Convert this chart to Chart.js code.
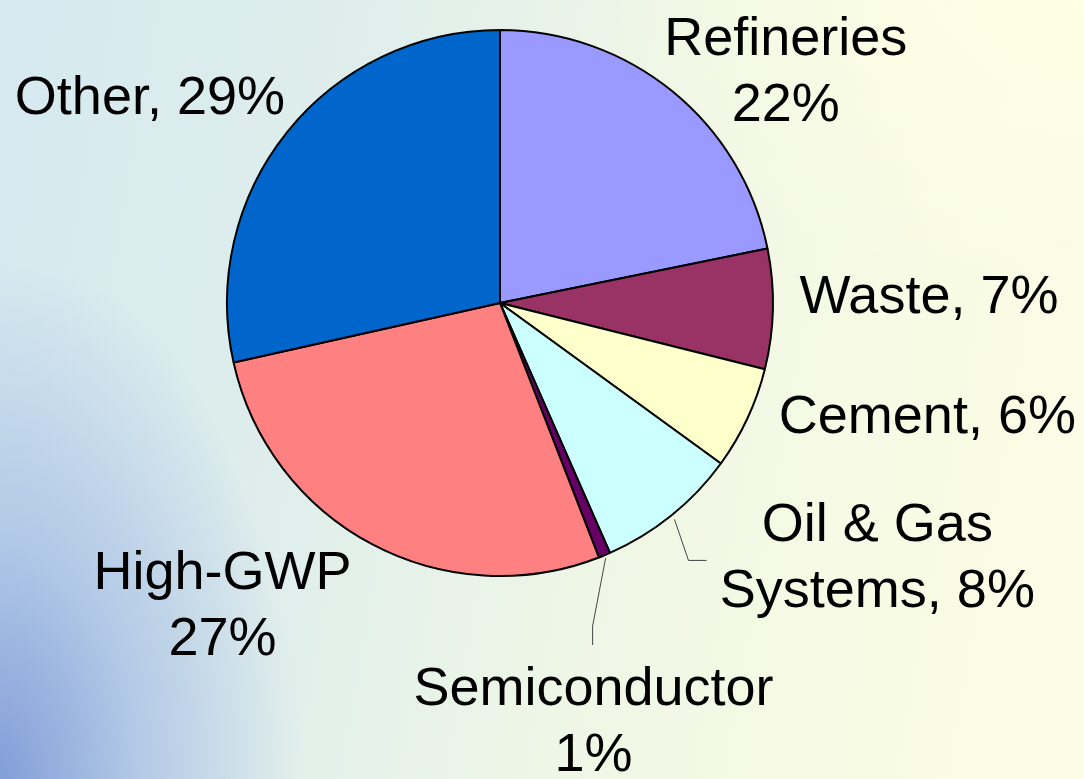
<!DOCTYPE html>
<html>
<head>
<meta charset="utf-8">
<title>Emission sources</title>
<script src="https://cdn.jsdelivr.net/npm/chart.js@4.4.1/dist/chart.umd.min.js"></script>
<style>
  html, body { margin: 0; padding: 0; }
  body {
    width: 1084px;
    height: 779px;
    overflow: hidden;
    background:
      radial-gradient(ellipse 300px 520px at 0% 100%, rgba(115, 145, 212, 0.85) 0%, rgba(150, 176, 226, 0.6) 45%, rgba(200, 225, 236, 0) 100%),
      radial-gradient(ellipse 500px 300px at 100% 0%, rgba(255, 255, 228, 0.9) 0%, rgba(255, 255, 228, 0) 100%),
      linear-gradient(100deg, #d5e9ef 0%, #dfeeec 30%, #eef6e6 55%, #f8fbe4 80%, #fbfce6 100%);
  }
  #wrap { position: absolute; left: 0; top: 0; width: 1084px; height: 779px; }
</style>
</head>
<body>
<div id="wrap"><canvas id="chart" width="1084" height="779"></canvas></div>
<script>
// data
const categories = ["Refineries", "Waste", "Cement", "Oil & Gas Systems", "Semiconductor", "High-GWP", "Other"];
const shares = [21.8, 7.1, 6.1, 8.4, 0.7, 27.4, 28.5];
const sliceColors = ["#9999FF", "#993366", "#FFFFCC", "#CCFFFF", "#660066", "#FF8080", "#0066CC"];
// label text, {p} is replaced by the rounded share
const labelLines = [
  ["Refineries", "{p}%"],
  ["Waste, {p}%"],
  ["Cement, {p}%"],
  ["Oil & Gas", "Systems, {p}%"],
  ["Semiconductor", "{p}%"],
  ["High-GWP", "{p}%"],
  ["Other, {p}%"]
];

// label placement relative to the slice's outer mid point (dx, dy of first baseline)
const labelOffsets = [[113, -37], [156, 4], [180, 15], [206, 25], [-11, 150], [-149, 45], [-137, -18]];
// leader lines: [start push out, bend dx, bend dy, end dx, end dy]
const leaders = { 3: [5, 14, 41, 32, 41], 4: [3, -13, 68, -13, 87] };

const FONT = '54px "Liberation Sans", Arial, sans-serif';
const LINE_GAP = 66;

const pieLabels = {
  id: "pieLabels",
  afterDatasetsDraw(chart) {
    const ctx = chart.ctx;
    const meta = chart.getDatasetMeta(0);
    ctx.save();
    meta.data.forEach((arc, i) => {
      const { x, y, startAngle, endAngle, outerRadius } = arc.getProps(["x", "y", "startAngle", "endAngle", "outerRadius"], true);
      const mid = (startAngle + endAngle) / 2;
      const ox = x + Math.cos(mid) * outerRadius;
      const oy = y + Math.sin(mid) * outerRadius;

      const ld = leaders[i];
      if (ld) {
        const sx = x + Math.cos(mid) * (outerRadius + ld[0]);
        const sy = y + Math.sin(mid) * (outerRadius + ld[0]);
        ctx.strokeStyle = "#444";
        ctx.lineWidth = 1;
        ctx.beginPath();
        ctx.moveTo(sx, sy);
        ctx.lineTo(sx + ld[1], sy + ld[2]);
        ctx.lineTo(sx + ld[3], sy + ld[4]);
        ctx.stroke();
      }

      const p = Math.round(shares[i]);
      const [dx, dy] = labelOffsets[i];
      ctx.font = FONT;
      ctx.fillStyle = "#000";
      ctx.textAlign = "center";
      ctx.textBaseline = "alphabetic";
      labelLines[i].forEach((line, k) => {
        ctx.fillText(line.replace("{p}", p), ox + dx, oy + dy + k * LINE_GAP);
      });
    });
    ctx.restore();
  }
};

new Chart(document.getElementById("chart"), {
  type: "pie",
  data: {
    labels: categories,
    datasets: [{
      data: shares,
      backgroundColor: sliceColors,
      borderColor: "#000",
      borderWidth: 2
    }]
  },
  options: {
    responsive: false,
    animation: false,
    layout: { padding: { left: 226, top: 29, right: 310, bottom: 202 } },
    plugins: {
      legend: { display: false },
      tooltip: { enabled: false }
    }
  },
  plugins: [pieLabels]
});
</script>
</body>
</html>
